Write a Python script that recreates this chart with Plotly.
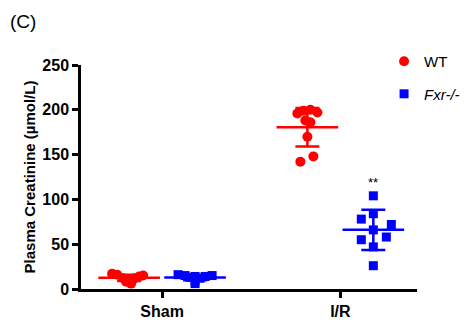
import plotly.graph_objects as go

# ---- data ----
groups = ["Sham", "I/R"]
group_pos = [0, 1]

wt_sham = [17, 16, 15, 14, 12, 12, 11, 8, 6]
wt_ir = [196, 199, 200, 197, 188, 186, 170, 148, 142]
fxr_sham = [16, 15, 15, 14, 14, 13, 12, 9, 6]
fxr_ir = [104, 84, 78, 72, 66, 58, 55, 47, 26]

wt_mean = [12.5, 180.5]
wt_sd = [3.5, 21.5]
fxr_mean = [12.7, 66.0]
fxr_sd = [3.0, 22.5]

# horizontal spread of the dots (pixels) within each group column
wt_sham_jit = [-17, -12, 14, 10, -6, 6, 0, -3, 2]
wt_ir_jit = [-10, -4, 3, 10, -2, 3, 0, 6, -7]
fxr_sham_jit = [-17, 17, -10, 10, 0, -5, 5, 0, 0]
fxr_ir_jit = [0, 0, -12, 18, 0, 13, -12, 0, 0]

RED = "#ff0000"
BLUE = "#0000ff"
FONT = "Liberation Sans, Arial, sans-serif"
PX_PER_UNIT = 178.0
DODGE = 0.185

def xs(center, jit):
    return [center + j / PX_PER_UNIT for j in jit]

fig = go.Figure()

wt_x = xs(group_pos[0] - DODGE, wt_sham_jit) + xs(group_pos[1] - DODGE, wt_ir_jit)
fxr_x = xs(group_pos[0] + DODGE, fxr_sham_jit) + xs(group_pos[1] + DODGE, fxr_ir_jit)

fig.add_trace(go.Scatter(
    x=wt_x, y=wt_sham + wt_ir, mode="markers", name="WT",
    marker=dict(symbol="circle", size=10, color=RED, line=dict(width=0)),
    legendgroup="wt",
))
fig.add_trace(go.Scatter(
    x=fxr_x, y=fxr_sham + fxr_ir, mode="markers", name="<i>Fxr-/-</i>",
    marker=dict(symbol="square", size=9, color=BLUE, line=dict(width=0)),
    legendgroup="fxr",
))

for mean, sd, off, col, grp in [(wt_mean, wt_sd, -DODGE, RED, "wt"),
                                 (fxr_mean, fxr_sd, DODGE, BLUE, "fxr")]:
    fig.add_trace(go.Scatter(
        x=[p + off for p in group_pos], y=mean, mode="markers",
        marker=dict(symbol="line-ew", size=44, color=col,
                    line=dict(width=2.5, color=col)),
        error_y=dict(type="data", array=sd, visible=True, color=col,
                     thickness=2.5, width=12),
        showlegend=False, legendgroup=grp, hoverinfo="skip",
    ))

fig.add_annotation(x=group_pos[1] + DODGE, y=fxr_ir[0] + 15, text="**",
                   showarrow=False, font=dict(family=FONT, size=13, color="black"))

fig.add_annotation(x=-73/336, y=1 + (65 - 21)/224, xref="paper", yref="paper",
                   xanchor="left", yanchor="middle", text="(C)", showarrow=False,
                   font=dict(family=FONT, size=19, color="black"))

axis_common = dict(showline=True, linecolor="black", linewidth=2.5,
                   ticks="outside", ticklen=6, tickwidth=2.5, tickcolor="black",
                   showgrid=False, zeroline=False, automargin=False,
                   tickfont=dict(family=FONT, size=16, color="black", weight="bold"))

fig.update_layout(
    width=468, height=323,
    margin=dict(l=81, r=51, t=65, b=34, autoexpand=False),
    paper_bgcolor="white", plot_bgcolor="white",
    xaxis=dict(range=[-0.455, 1.43], tickvals=group_pos, ticktext=groups, **axis_common),
    yaxis=dict(range=[0, 250], tickvals=[0, 50, 100, 150, 200, 250], **axis_common,
               title=dict(text="Plasma Creatinine (µmol/L)",
                          font=dict(family=FONT, size=15, color="black", weight="bold"),
                          standoff=4)),
    legend=dict(x=0.902, y=1.089, xanchor="left", yanchor="top",
                font=dict(family=FONT, size=15, color="black"),
                traceorder="grouped", tracegroupgap=10,
                bgcolor="rgba(0,0,0,0)"),
    showlegend=True,
)

fig.write_html("out.html")
